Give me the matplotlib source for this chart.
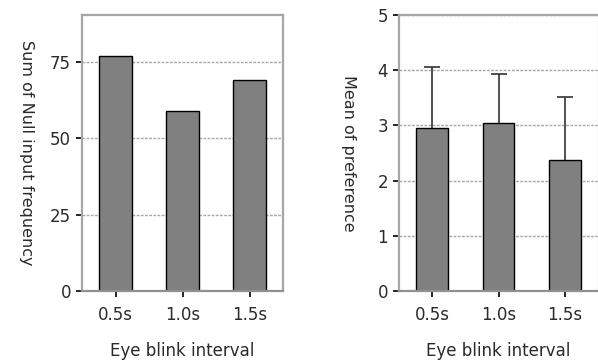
import matplotlib
matplotlib.use("Agg")
import matplotlib.pyplot as plt

categories = ["0.5s", "1.0s", "1.5s"]
null_freq = [77, 59, 69]
pref_mean = [2.95, 3.04, 2.37]
pref_sd = [1.11, 0.90, 1.15]

plt.rcParams['font.family'] = ['DejaVu Sans']

fig = plt.figure(figsize=(5.98, 3.61), dpi=100)
ax1 = fig.add_axes([82/598, 70/361, 201/598, 276/361])
ax2 = fig.add_axes([399/598, 70/361, 199/598, 276/361])

x = [1, 2, 3]
spine_c = "#a6a6a6"
grid_c = "#a8a8a8"
bar_c = "#808080"
txt_c = "#2a2a2a"

def style(ax, ylim, yticks, ylabel, labelpad):
    ax.set_xlim(0.5, 3.5)
    ax.set_ylim(*ylim)
    ax.set_yticks(yticks)
    ax.set_yticklabels([str(t) for t in yticks])
    ax.set_xticks(x)
    ax.set_xticklabels(categories)
    for s in ax.spines.values():
        s.set_color(spine_c)
        s.set_linewidth(1.6)
    ax.spines['bottom'].set_color("#909090")
    ax.set_axisbelow(True)
    ax.yaxis.grid(True, linestyle=(0, (2, 1)), color=grid_c, linewidth=1.0)
    ax.tick_params(axis='both', length=4, width=1.2, color='black',
                   labelsize=12, labelcolor=txt_c)
    ax.tick_params(axis='x', pad=7)
    ax.tick_params(axis='y', pad=4)
    ax.set_xlabel("Eye blink interval", fontsize=12, color=txt_c, labelpad=13)
    ax.set_ylabel(ylabel, fontsize=11.5, color=txt_c, rotation=270,
                  va='bottom', labelpad=labelpad)

ax1.bar(x, null_freq, width=0.48, color=bar_c, edgecolor='black', linewidth=1.0, zorder=2)
style(ax1, (0, 90.4), [0, 25, 50, 75], "Sum of Null input frequency", 22)

ax2.errorbar(x, pref_mean, yerr=pref_sd, fmt='none', ecolor='#333333',
             elinewidth=1.2, capsize=6, capthick=1.2, zorder=1)
ax2.bar(x, pref_mean, width=0.48, color=bar_c, edgecolor='black', linewidth=1.0, zorder=2)
style(ax2, (0, 5), [0, 1, 2, 3, 4, 5], "Mean of preference", 26)
ax2.spines['right'].set_color("#dddddd")
ax2.spines['right'].set_linewidth(1.0)

fig.savefig("out.png", dpi=100)
